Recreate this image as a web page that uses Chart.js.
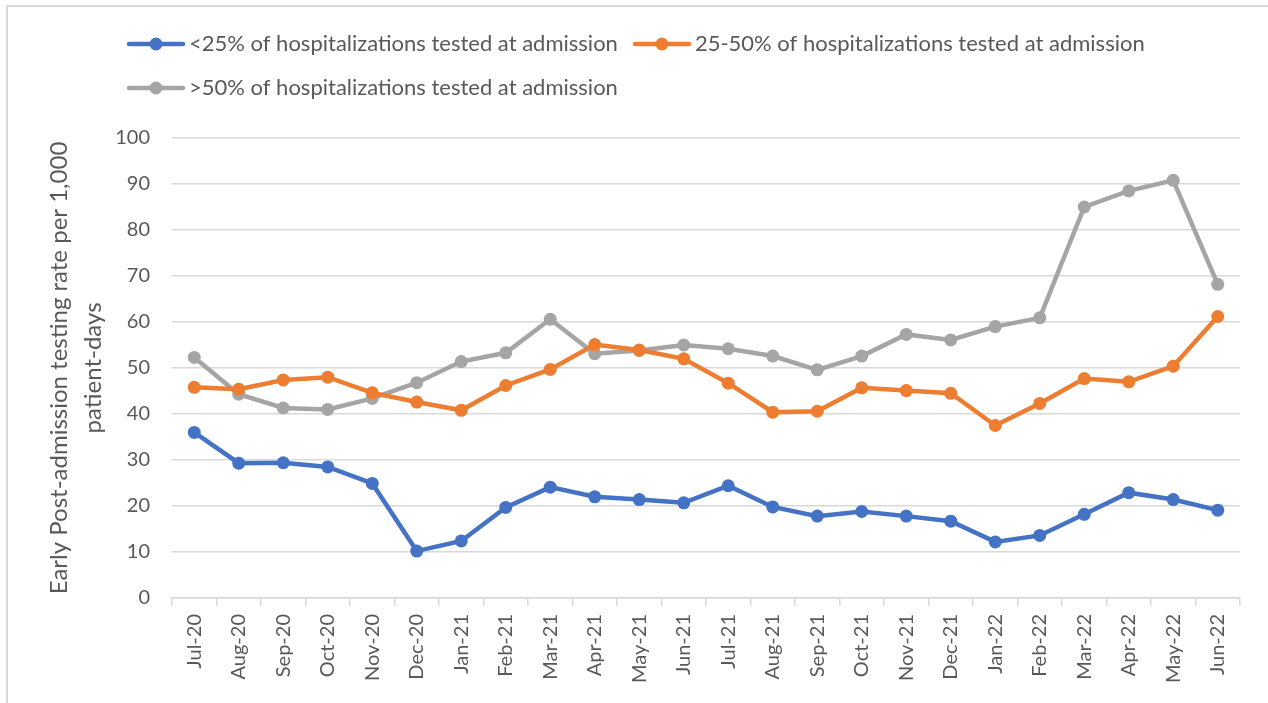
<!DOCTYPE html>
<html>
<head>
<meta charset="utf-8">
<script src="https://cdn.jsdelivr.net/npm/chart.js@4.4.1/dist/chart.umd.min.js"></script>
<style>
  body { margin: 0; background: #fff; }
  #wrap { position: absolute; left: 0; top: 0; width: 1268px; height: 703px; }
  #frame { position: absolute; left: 6px; top: 5px; width: 1300px; height: 800px;
           border-left: 2px solid #d9d9d9; border-top: 2px solid #d9d9d9; pointer-events: none; }
</style>
</head>
<body>
<div id="wrap"><canvas id="chart" width="1268" height="703"></canvas></div>
<div id="frame"></div>
<script>
// categories (months)
const months = ['Jul-20', 'Aug-20', 'Sep-20', 'Oct-20', 'Nov-20', 'Dec-20', 'Jan-21', 'Feb-21',
  'Mar-21', 'Apr-21', 'May-21', 'Jun-21', 'Jul-21', 'Aug-21', 'Sep-21', 'Oct-21', 'Nov-21',
  'Dec-21', 'Jan-22', 'Feb-22', 'Mar-22', 'Apr-22', 'May-22', 'Jun-22'];

// series values
const lowTested = [36.0, 29.3, 29.4, 28.5, 24.9, 10.2, 12.4, 19.7, 24.1, 22.0, 21.4, 20.7,
  24.4, 19.8, 17.8, 18.8, 17.8, 16.7, 12.2, 13.6, 18.2, 22.9, 21.4, 19.1];
const midTested = [45.8, 45.4, 47.4, 48.0, 44.6, 42.6, 40.8, 46.2, 49.7, 55.1, 53.9, 52.0,
  46.7, 40.4, 40.6, 45.7, 45.1, 44.5, 37.5, 42.3, 47.7, 47.0, 50.4, 61.2];
const highTested = [52.3, 44.3, 41.3, 41.0, 43.4, 46.8, 51.4, 53.3, 60.6, 53.1, 53.8, 55.0,
  54.2, 52.6, 49.6, 52.6, 57.3, 56.1, 59.0, 60.9, 85.0, 88.5, 90.8, 68.2];

const seriesNames = ['<25% of hospitalizations tested at admission',
  '25-50% of hospitalizations tested at admission',
  '>50% of hospitalizations tested at admission'];
const colors = ['#4472C4', '#ED7D31', '#A5A5A5'];

// y ticks
const yMin = 0, yMax = 100, yStep = 10;

const FONT = 'Lato, Liberation Sans, sans-serif';

// legend marker: line with a dot, like Excel
function legendMarker(color) {
  const c = document.createElement('canvas');
  c.width = 60; c.height = 16;
  const g = c.getContext('2d');
  g.strokeStyle = color;
  g.lineWidth = 4.5;
  g.lineCap = 'round';
  g.beginPath(); g.moveTo(3, 8); g.lineTo(57, 8); g.stroke();
  g.fillStyle = color;
  g.beginPath(); g.arc(30, 8, 6.5, 0, Math.PI * 2); g.fill();
  return c;
}
const markers = colors.map(legendMarker);

// move legend rows to where Excel puts them (right and up)
const legendShift = {
  id: 'legendShift',
  afterLayout(chart) {
    chart.legend.left += 104;
    chart.legend.top -= 29;
  }
};

function makeSet(label, data, color) {
  return {
    label: label,
    data: data,
    borderColor: color,
    backgroundColor: color,
    borderWidth: 4.5,
    pointRadius: 6.5,
    pointHoverRadius: 6.5,
    pointBorderWidth: 0,
    tension: 0
  };
}

new Chart(document.getElementById('chart').getContext('2d'), {
  type: 'line',
  data: {
    labels: months,
    datasets: [
      makeSet(seriesNames[0], lowTested, colors[0]),
      makeSet(seriesNames[1], midTested, colors[1]),
      makeSet(seriesNames[2], highTested, colors[2])
    ]
  },
  options: {
    responsive: false,
    animation: false,
    layout: { padding: { left: 8, top: 40, right: 28, bottom: 0 } },
    plugins: {
      tooltip: { enabled: false },
      legend: {
        position: 'top',
        align: 'start',
        labels: {
          usePointStyle: true,
          pointStyleWidth: 44,
          padding: 22,
          color: '#595959',
          font: { family: FONT, size: 22 },
          generateLabels(chart) {
            return chart.data.datasets.map((ds, i) => ({
              text: ds.label,
              pointStyle: markers[i],
              fillStyle: ds.borderColor,
              strokeStyle: ds.borderColor,
              lineWidth: 0,
              fontColor: '#595959',
              datasetIndex: i
            }));
          }
        }
      }
    },
    scales: {
      x: {
        offset: true,
        grid: { display: true, drawOnChartArea: false, offset: true, tickLength: 8, color: '#d9d9d9', lineWidth: 1.5 },
        border: { display: true, color: '#d9d9d9', width: 1.5 },
        ticks: { color: '#595959', font: { family: FONT, size: 20 }, minRotation: 90, maxRotation: 90, padding: 8, autoSkip: false },
        afterFit(scale) { scale.height = 105; }
      },
      y: {
        min: yMin,
        max: yMax,
        ticks: { stepSize: yStep, color: '#595959', font: { family: FONT, size: 20 }, padding: 22 },
        grid: { color: '#d9d9d9', lineWidth: 1.5, drawTicks: false },
        border: { display: false },
        title: {
          display: true,
          text: ['Early Post-admission testing rate per 1,000', 'patient-days'],
          color: '#595959',
          font: { family: FONT, size: 24, lineHeight: 1.42 },
          padding: { top: 34, bottom: 0 }
        },
        afterFit(scale) { scale.width = 164; }
      }
    }
  },
  plugins: [legendShift]
});
</script>
</body>
</html>
